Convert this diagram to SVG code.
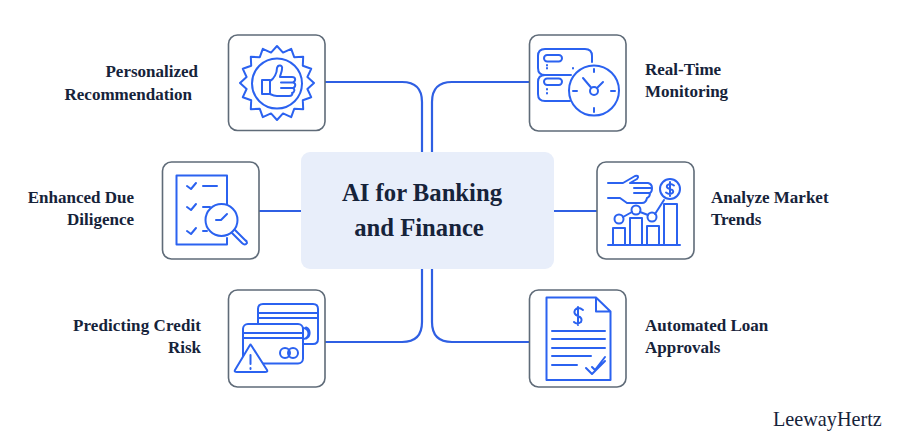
<svg xmlns="http://www.w3.org/2000/svg" width="903" height="439" viewBox="0 0 903 439">
<style>
.box{fill:#fff;stroke:#5f6b78;stroke-width:1.6}
.con{fill:none;stroke:#2f5fe3;stroke-width:2.2}
.ic{fill:none;stroke:#2b62f0;stroke-width:2;stroke-linecap:round;stroke-linejoin:round}
.t{font-family:"Liberation Serif",serif;font-weight:700;font-size:17px;fill:#16233a}
.h{font-family:"Liberation Serif",serif;font-weight:700;font-size:24.700px;fill:#16233a;text-anchor:middle}
.e{text-anchor:end}
</style>
<rect width="903" height="439" fill="#fff"/>
<g id="connectors">
<path class="con" d="M325 82H402Q422 82 422 102V152"/>
<path class="con" d="M529 82H452Q432 82 432 102V152"/>
<path class="con" d="M325 342H402Q422 342 422 322V269"/>
<path class="con" d="M529 342H452Q432 342 432 322V269"/>
<path class="con" d="M259 211H301"/>
<path class="con" d="M554 211H597"/>
</g>
<g id="center">
<rect x="301" y="152" width="253" height="117" rx="9" fill="#e8eefa"/>
<text class="h" x="422" y="201">AI for Banking</text>
<text class="h" x="419" y="236">and Finance</text>
</g>
<g id="node-personalized">
<rect class="box" x="228.500" y="35" width="96.500" height="95.500" rx="9"/>
<path class="ic" d="M277 46L283 52.600L291.200 48.800L294.200 57.200L303.200 56.800L302.800 65.800L311.200 68.800L307.400 77L314 83L307.400 89L311.200 97.200L302.800 100.200L303.200 109.200L294.200 108.800L291.200 117.200L283 113.400L277 120L271 113.400L262.800 117.200L259.800 108.800L250.800 109.200L251.200 100.200L242.800 97.200L246.600 89L240 83L246.600 77L242.800 68.800L251.200 65.800L250.800 56.800L259.800 57.200L262.800 48.800L271 52.600Z"/>
<circle class="ic" cx="277" cy="83.500" r="25"/>
<path class="ic" d="M262 80H270V94H262ZM270 81C274 79 277 73 277 68C278 64 283 65 282 69C282 72 280 75 280 77H292C296 77 296 81 293 82.500C296 83 296 87 293 88C295 89 295 92 292 93C293 94 292 96 289 96H277C274 96 272 95 270 94M281 82.500H293M281 88H293"/>
<text class="t e" x="198" y="77">Personalized</text>
<text class="t e" x="192" y="100">Recommendation</text>
</g>
<g id="node-monitoring">
<rect class="box" x="529.500" y="35" width="96.500" height="96" rx="9"/>
<path class="ic" d="M571 75H545Q538 75 538 68V56Q538 49 545 49H585Q592 49 592 56V62M545 75Q538 75 538 82V94Q538 101 545 101H570"/>
<rect class="ic" x="544" y="55" width="18" height="6.500" rx="3.200"/>
<rect class="ic" x="544" y="78.500" width="18" height="6.500" rx="3.200"/>
<path class="ic" d="M547 65V65.500M547 68V68.500M547 89V89.500M547 93V93.500M573 68V68.500"/>
<circle class="ic" cx="594" cy="90.500" r="25"/>
<circle class="ic" cx="594" cy="91" r="4"/>
<path class="ic" d="M591 87.500L583 78M597 88L603 82M594 69V72M594 108V112M573 91H577M611 91H615"/>
<text class="t" x="645" y="75">Real-Time</text>
<text class="t" x="645" y="97">Monitoring</text>
</g>
<g id="node-diligence">
<rect class="box" x="162.500" y="162" width="96.500" height="97" rx="9"/>
<path class="ic" d="M227 204V175.500H176.500V244.500H227V238"/>
<path class="ic" d="M187 186L191 189L196 183M187 207L191 210L196 204M187 231L191 234L196 228M203 186H217M203 207H210M203 231H207M216 220H221L227 214"/>
<circle class="ic" cx="221.500" cy="220" r="16"/>
<path class="ic" d="M232 233L242 243Q245 246 247 243Q247 241 245 240L235 230"/>
<text class="t e" x="134" y="203">Enhanced Due</text>
<text class="t e" x="134" y="225">Diligence</text>
</g>
<g id="node-market">
<rect class="box" x="597" y="162" width="97" height="97" rx="9"/>
<path class="ic" d="M608 183H623L635 176Q640 175 637 179L630 183H648Q652 184 652 188Q652 192 650 193Q650 197 647 198Q646 203 642 203H627L620 198H608M634 188H652M634 193H650"/>
<circle class="ic" cx="670" cy="189" r="10"/>
<path class="ic" d="M674 185.500Q670 182.500 667 185.500Q666 188 670 189Q674 190 673 192.500Q670 195.500 666 192.500M670 182V196"/>
<circle class="ic" cx="619" cy="219" r="4.500"/>
<circle class="ic" cx="636" cy="210" r="4.500"/>
<circle class="ic" cx="652" cy="217" r="4.500"/>
<path class="ic" d="M623 217L632 212M640 212L648 215M655 214L664 200"/>
<path class="ic" d="M613 245V228H625V245M630 245V218H642V245M647 245V226H659V245M664 245V204H677V245M608 245H680"/>
<text class="t" x="711" y="203">Analyze Market</text>
<text class="t" x="711" y="225">Trends</text>
</g>
<g id="node-credit">
<rect class="box" x="228.500" y="290" width="96.500" height="97" rx="9"/>
<path class="ic" d="M258 324V309Q258 304 263 304H313Q318 304 318 309V339Q318 344 313 344H303M258 313H318M258 318H318"/>
<path class="ic" d="M303 328A5.500 5.500 0 0 1 303 339M306 327.500A6 6 0 0 1 306 338.500"/>
<rect class="ic" x="243" y="324" width="60" height="39.500" rx="5" style="fill:#fff"/>
<path class="ic" d="M243 333H303M243 338H303"/>
<circle class="ic" cx="285" cy="353" r="5"/>
<circle class="ic" cx="293" cy="353" r="5"/>
<path class="ic" d="M251 345L267 370Q268 372 265 372H237Q234 372 235 370L250 345Q250.500 344 251 345Z" style="fill:#fff"/>
<path class="ic" d="M250.500 355V364M250.500 368V369"/>
<text class="t e" x="201" y="331" textLength="128" lengthAdjust="spacing">Predicting Credit</text>
<text class="t e" x="201" y="353">Risk</text>
</g>
<g id="node-loan">
<rect class="box" x="529.500" y="290" width="96.500" height="97" rx="9"/>
<path class="ic" d="M596 297.500H546.500V380H610.500V311.500L596 297.500V311.500H610.500"/>
<path class="ic" d="M583 310Q578 306 575 310Q573 314 578 316Q583 318 581 322Q577 325 574 322M578 307V325"/>
<path class="ic" d="M552 331H605M552 339H605M552 348H605M552 356H591M552 365H577"/>
<path class="ic" d="M586 368L592 374L605 361M592 367L595 370L605 357"/>
<text class="t" x="645" y="331">Automated Loan</text>
<text class="t" x="645" y="353">Approvals</text>
</g>
<text id="brand" x="773" y="426" font-family="Liberation Serif, serif" font-size="20.200" fill="#16233a">LeewayHertz</text>
</svg>
